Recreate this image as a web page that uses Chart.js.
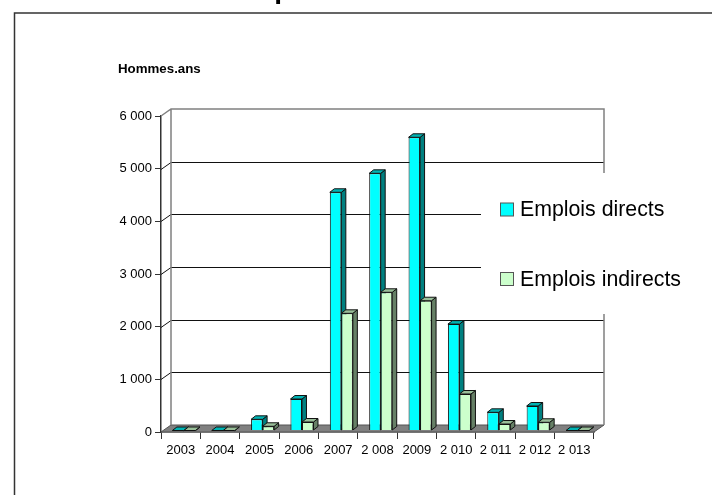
<!DOCTYPE html>
<html>
<head>
<meta charset="utf-8">
<style>
  html, body { margin: 0; padding: 0; background: #fff; }
  canvas { display: block; }
</style>
<script src="https://cdn.jsdelivr.net/npm/chart.js@4"></script>
</head>
<body>
<canvas id="chart" width="712" height="495"></canvas>
<script>
const categories = ['2003', '2004', '2005', '2006', '2007', '2 008', '2009', '2 010', '2 011', '2 012', '2 013'];
const emploisDirects = [0, 0, 212, 598, 4523, 4883, 5567, 2020, 345, 465, 0];
const emploisIndirects = [0, 0, 80, 161, 2225, 2624, 2464, 693, 123, 156, 0];
const seriesNames = ['Emplois directs', 'Emplois indirects'];
const yTicks = [0, 1000, 2000, 3000, 4000, 5000, 6000];
const yTickLabels = ['0', '1 000', '2 000', '3 000', '4 000', '5 000', '6 000'];
const yTitle = 'Hommes.ans';

// fake 3D: wall depth, bar depth, bar shift from the front axis
const WALL_DX = 10, WALL_DY = -7;
const BAR_DX = 4.5, BAR_DY = -3.5;
const SHIFT_X = 3.2, SHIFT_Y = -1.5;

const FACES = [
  { front: '#00ffff', top: '#00b3b3', side: '#008080' },
  { front: '#ccffcc', top: '#99bf99', side: '#668066' },
];

function poly(ctx, pts, fill, stroke) {
  ctx.beginPath();
  pts.forEach((p, i) => i ? ctx.lineTo(p[0], p[1]) : ctx.moveTo(p[0], p[1]));
  ctx.closePath();
  if (fill) { ctx.fillStyle = fill; ctx.fill(); }
  if (stroke) { ctx.strokeStyle = stroke; ctx.lineWidth = 1; ctx.stroke(); }
}

const wall3d = {
  id: 'wall3d',
  beforeDatasetsDraw(chart) {
    const { ctx, chartArea: a, scales: { y } } = chart;
    ctx.save();
    // frame, only top and left are in the picture
    ctx.strokeStyle = '#333';
    ctx.lineWidth = 1.5;
    ctx.beginPath();
    ctx.moveTo(14.5, 495);
    ctx.lineTo(14.5, 13);
    ctx.lineTo(712, 13);
    ctx.stroke();

    // title is cut by the top of the page, only a descender shows
    ctx.fillStyle = '#000';
    ctx.font = 'bold 28px "Liberation Sans"';
    ctx.textAlign = 'left';
    ctx.textBaseline = 'alphabetic';
    ctx.fillText('p', 274.2, -2);

    // floor
    poly(ctx, [
      [a.left, a.bottom],
      [a.left + WALL_DX, a.bottom + WALL_DY],
      [a.right + WALL_DX, a.bottom + WALL_DY],
      [a.right, a.bottom],
    ], '#808080', '#555');

    // grid lines, run across the side wall and then the back wall
    yTicks.slice(1, -1).forEach(v => {
      const py = Math.round(y.getPixelForValue(v) + WALL_DY) + 0.5;
      ctx.strokeStyle = '#111';
      ctx.lineWidth = 1;
      ctx.beginPath();
      ctx.moveTo(a.left, py - WALL_DY);
      ctx.lineTo(a.left + WALL_DX, py);
      ctx.lineTo(a.right + WALL_DX, py);
      ctx.stroke();
    });

    // wall outline
    ctx.strokeStyle = '#808080';
    ctx.lineWidth = 1.5;
    ctx.beginPath();
    ctx.moveTo(a.left, a.top);
    ctx.lineTo(a.left + WALL_DX, a.top + WALL_DY);
    ctx.lineTo(a.right + WALL_DX, a.top + WALL_DY);
    ctx.lineTo(a.right + WALL_DX, a.bottom + WALL_DY);
    ctx.moveTo(a.left + WALL_DX, a.top + WALL_DY);
    ctx.lineTo(a.left + WALL_DX, a.bottom + WALL_DY);
    ctx.stroke();

    // legend box sits over the grid
    ctx.fillStyle = '#fff';
    ctx.fillRect(481, 173, 225, 141);
    seriesNames.forEach((name, i) => {
      const top = i ? 272.5 : 203;
      ctx.fillStyle = FACES[i].front;
      ctx.strokeStyle = '#555';
      ctx.lineWidth = 1;
      ctx.fillRect(500.5, top, 13, 13);
      ctx.strokeRect(500.5, top, 13, 13);
      ctx.fillStyle = '#000';
      ctx.font = '21.3px "Liberation Sans"';
      ctx.fillText(name, 520, i ? 285.7 : 216);
    });

    ctx.fillStyle = '#000';
    ctx.font = 'bold 13.3px "Liberation Sans"';
    ctx.fillText(yTitle, 118, 73);
    ctx.restore();
  },
  // the library paints the first dataset last, here the left bar must go first
  beforeDatasetDraw() {
    return false;
  },
  afterDatasetsDraw(chart) {
    const { ctx } = chart;
    [0, 1].forEach(index => {
      const meta = chart.getDatasetMeta(index);
      const colors = FACES[index];
      ctx.save();
      ctx.translate(SHIFT_X, SHIFT_Y);
      meta.data.forEach(bar => {
        const { x, y, base, width } = bar.getProps(['x', 'y', 'base', 'width']);
        const l = x - width / 2, r = x + width / 2;
        poly(ctx, [[r, y], [r + BAR_DX, y + BAR_DY], [r + BAR_DX, base + BAR_DY], [r, base]], colors.side, '#111');
        poly(ctx, [[l, y], [l + BAR_DX, y + BAR_DY], [r + BAR_DX, y + BAR_DY], [r, y]], colors.top, '#111');
      });
      meta.controller.draw();
      ctx.restore();
    });
  },
};

new Chart(document.getElementById('chart'), {
  type: 'bar',
  plugins: [wall3d],
  data: {
    labels: categories,
    datasets: [
      {
        label: seriesNames[0],
        data: emploisDirects,
        backgroundColor: FACES[0].front,
        borderColor: '#111',
        borderWidth: 1,
      },
      {
        label: seriesNames[1],
        data: emploisIndirects,
        backgroundColor: FACES[1].front,
        borderColor: '#111',
        borderWidth: 1,
      },
    ],
  },
  options: {
    responsive: false,
    animation: false,
    categoryPercentage: 0.585,
    barPercentage: 1,
    layout: { padding: { top: 116, right: 118, left: 0, bottom: 0 } },
    plugins: {
      legend: { display: false },
      tooltip: { enabled: false },
    },
    scales: {
      x: {
        afterFit: s => { s.height = 63; },
        border: { color: '#333', width: 1.5 },
        grid: { drawOnChartArea: false, color: '#333', tickLength: 7, offset: true },
        ticks: {
          color: '#000',
          padding: 4,
          maxRotation: 0,
          autoSkip: false,
          font: { family: 'Liberation Sans', size: 13 },
        },
      },
      y: {
        min: 0,
        max: 6000,
        afterFit: s => { s.width = 161; },
        border: { color: '#333', width: 1.5 },
        grid: { drawOnChartArea: false, color: '#333', tickLength: 6 },
        ticks: {
          stepSize: 1000,
          color: '#000',
          padding: 3,
          font: { family: 'Liberation Sans', size: 13 },
          callback: v => yTickLabels[yTicks.indexOf(v)],
        },
      },
    },
  },
});
</script>
</body>
</html>
